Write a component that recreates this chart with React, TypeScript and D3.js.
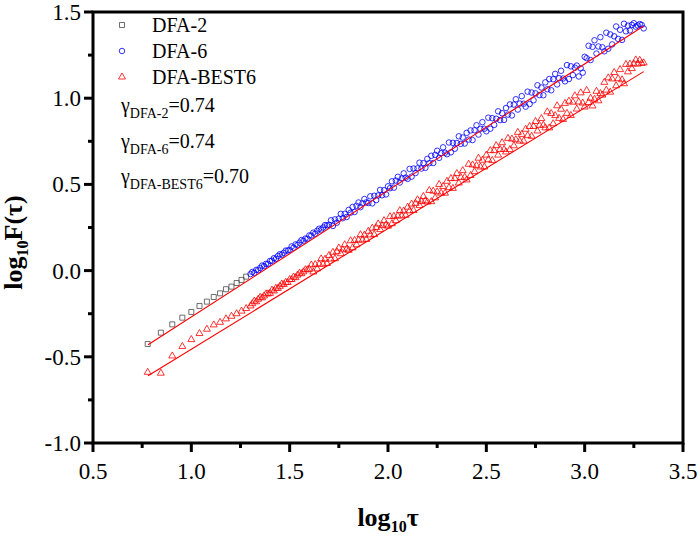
import * as d3 from 'd3'

// x grid: integer window sizes at small scale, then log10(tau) samples 1.31 .. 3.30
const smallTau = [6, 7, 8, 9, 10, 11, 12, 13, 14, 15, 16, 17, 18, 19, 20]
const denseStart = 1.31
const denseStep = 0.01

// DFA-2 (visible squares, tau 6..19)
const dfa2Small = [-0.426, -0.36, -0.312, -0.273, -0.24, -0.205, -0.18, -0.153, -0.132, -0.108, -0.093, -0.072, -0.054, -0.035]

// DFA-6: tau 20, then dense samples
const dfa6First = -0.02
const dfa6Dense = [
  -0.008, -0.013, 0.004, 0.003, 0.015, 0.029, 0.026, 0.039, 0.039, 0.056,
  0.057, 0.072, 0.068, 0.084, 0.095, 0.092, 0.103, 0.116, 0.116, 0.120,
  0.140, 0.133, 0.152, 0.149, 0.162, 0.177, 0.173, 0.186, 0.185, 0.204,
  0.203, 0.220, 0.214, 0.231, 0.243, 0.238, 0.250, 0.264, 0.262, 0.266,
  0.292, 0.259, 0.297, 0.278, 0.301, 0.329, 0.304, 0.329, 0.311, 0.352,
  0.336, 0.369, 0.340, 0.376, 0.395, 0.368, 0.390, 0.415, 0.396, 0.392,
  0.431, 0.390, 0.434, 0.409, 0.436, 0.468, 0.437, 0.466, 0.442, 0.489,
  0.478, 0.518, 0.481, 0.522, 0.544, 0.511, 0.534, 0.564, 0.539, 0.532,
  0.590, 0.545, 0.592, 0.566, 0.593, 0.626, 0.592, 0.623, 0.596, 0.648,
  0.623, 0.666, 0.624, 0.671, 0.695, 0.654, 0.681, 0.715, 0.684, 0.675,
  0.743, 0.686, 0.741, 0.707, 0.740, 0.779, 0.735, 0.772, 0.737, 0.799,
  0.760, 0.813, 0.757, 0.814, 0.843, 0.789, 0.822, 0.861, 0.823, 0.808,
  0.887, 0.823, 0.884, 0.845, 0.881, 0.924, 0.873, 0.913, 0.874, 0.943,
  0.905, 0.964, 0.900, 0.963, 0.994, 0.934, 0.969, 1.012, 0.968, 0.951,
  1.038, 0.966, 1.033, 0.988, 1.028, 1.075, 1.018, 1.062, 1.017, 1.092,
  1.052, 1.111, 1.046, 1.110, 1.141, 1.080, 1.116, 1.159, 1.114, 1.098,
  1.192, 1.111, 1.185, 1.134, 1.177, 1.189, 1.126, 1.173, 1.148, 1.240,
  1.232, 1.304, 1.221, 1.298, 1.336, 1.259, 1.300, 1.354, 1.295, 1.272,
  1.380, 1.287, 1.370, 1.312, 1.359, 1.416, 1.344, 1.397, 1.338, 1.432,
  1.388, 1.421, 1.393, 1.425, 1.435, 1.415, 1.422, 1.430, 1.425, 1.405
]

// DFA-BEST6: tau 6..20, then dense samples
const best6Small = [-0.59, -0.595, -0.495, -0.44, -0.40, -0.365, -0.34, -0.315, -0.30, -0.28, -0.265, -0.25, -0.235, -0.22, -0.205]
const best6Dense = [
  -0.192, -0.177, -0.181, -0.166, -0.155, -0.158, -0.147, -0.135, -0.135, -0.132,
  -0.113, -0.118, -0.102, -0.103, -0.091, -0.078, -0.081, -0.068, -0.069, -0.052,
  -0.052, -0.037, -0.041, -0.026, -0.015, -0.018, -0.007, 0.005, 0.005, 0.008,
  0.033, -0.008, 0.035, 0.010, 0.037, 0.068, 0.037, 0.066, 0.041, 0.088,
  0.067, 0.106, 0.069, 0.110, 0.131, 0.098, 0.121, 0.150, 0.125, 0.118,
  0.173, 0.132, 0.175, 0.150, 0.177, 0.208, 0.177, 0.206, 0.181, 0.228,
  0.207, 0.246, 0.209, 0.250, 0.271, 0.238, 0.261, 0.290, 0.265, 0.258,
  0.313, 0.272, 0.315, 0.290, 0.317, 0.348, 0.317, 0.346, 0.321, 0.368,
  0.347, 0.386, 0.349, 0.390, 0.411, 0.378, 0.401, 0.430, 0.405, 0.398,
  0.465, 0.400, 0.461, 0.422, 0.457, 0.500, 0.449, 0.488, 0.449, 0.518,
  0.481, 0.534, 0.477, 0.534, 0.563, 0.508, 0.541, 0.580, 0.541, 0.526,
  0.617, 0.552, 0.613, 0.574, 0.609, 0.652, 0.601, 0.640, 0.601, 0.670,
  0.643, 0.696, 0.639, 0.696, 0.725, 0.670, 0.703, 0.742, 0.703, 0.688,
  0.767, 0.702, 0.763, 0.724, 0.759, 0.802, 0.751, 0.790, 0.751, 0.820,
  0.783, 0.836, 0.779, 0.836, 0.865, 0.810, 0.843, 0.882, 0.843, 0.828,
  0.921, 0.828, 0.911, 0.852, 0.899, 0.956, 0.883, 0.936, 0.877, 0.970,
  0.912, 0.983, 0.900, 0.977, 1.014, 0.937, 0.978, 1.031, 0.972, 0.949,
  1.045, 0.975, 1.000, 0.955, 0.994, 1.040, 0.985, 1.027, 1.018, 1.092,
  1.047, 1.118, 1.035, 1.112, 1.149, 1.072, 1.113, 1.166, 1.107, 1.084,
  1.196, 1.153, 1.198, 1.172, 1.199, 1.222, 1.198, 1.220, 1.202, 1.205
]

// linear fits: [DFA-2/DFA-6, DFA-BEST6]
const fitSlopes = [0.734, 0.70]
const fitIntercepts = [-1.003, -1.156]
const fitRange = [0.78, 3.30]

const seriesNames = ['DFA-2', 'DFA-6', 'DFA-BEST6']
const gammaValues = ['0.74', '0.74', '0.70']

const xTicks = [0.5, 1.0, 1.5, 2.0, 2.5, 3.0, 3.5]
const xMinor = [0.75, 1.25, 1.75, 2.25, 2.75, 3.25]
const yTicks = [-1.0, -0.5, 0.0, 0.5, 1.0, 1.5]
const yMinor = [-0.75, -0.25, 0.25, 0.75, 1.25]

const W = 699
const H = 538
const left = 93
const right = 683
const top = 12
const bottom = 443
const font = "'Liberation Serif', 'Times New Roman', Times, 'DejaVu Serif', serif"

const x = d3.scaleLinear().domain([0.5, 3.5]).range([left, right])
const y = d3.scaleLinear().domain([-1, 1.5]).range([bottom, top])

const squarePath = d3.symbol(d3.symbolSquare, 25)()
const circlePath = d3.symbol(d3.symbolCircle, 24)()
const trianglePath = d3.symbol(d3.symbolTriangle, 21)()

type Pt = [number, number]

const smallLog = smallTau.map(t => Math.log10(t))
const denseX = (i: number) => denseStart + i * denseStep
const dfa2Pts: Pt[] = dfa2Small.map((v, i) => [smallLog[i], v])
const dfa6Pts: Pt[] = [[smallLog[14], dfa6First] as Pt].concat(
  dfa6Dense.map((v, i) => [denseX(i), v] as Pt)
)
const best6Pts: Pt[] = best6Small
  .map((v, i) => [smallLog[i], v] as Pt)
  .concat(best6Dense.map((v, i) => [denseX(i), v] as Pt))

const markers = [
  { pts: dfa2Pts, path: squarePath, color: '#4a4a4a' },
  { pts: dfa6Pts, path: circlePath, color: '#0000ff' },
  { pts: best6Pts, path: trianglePath, color: '#ff0000' }
]

const line = d3.line<Pt>().x(d => x(d[0])).y(d => y(d[1]))

export default function App() {
  return (
    <svg
      width={W}
      height={H}
      style={{ position: 'absolute', left: 0, top: 0, background: '#fff' }}
    >
      {markers.map((m, si) => (
        <g key={si} fill="none" stroke={m.color} strokeWidth={0.8}>
          {m.pts.map((p, i) => (
            <path key={i} d={m.path} transform={`translate(${x(p[0])},${y(p[1])})`} />
          ))}
        </g>
      ))}

      {fitSlopes.map((s, i) => (
        <path
          key={i}
          d={line(fitRange.map(v => [v, s * v + fitIntercepts[i]] as Pt)) ?? ''}
          fill="none"
          stroke="#ff0000"
          strokeWidth={1.1}
        />
      ))}

      {/* frame */}
      <rect x={left} y={top} width={right - left} height={bottom - top} fill="none" stroke="#000" strokeWidth={3} />

      <g style={{ fontFamily: font }}>
        {/* x axis ticks */}
        {xTicks.map(t => (
          <g key={t}>
            <line x1={x(t)} x2={x(t)} y1={bottom} y2={bottom + 9} stroke="#000" strokeWidth={3} />
            <text x={x(t)} y={bottom + 36} fontSize={23} textAnchor="middle">
              {t.toFixed(1)}
            </text>
          </g>
        ))}
        {xMinor.map(t => (
          <line key={t} x1={x(t)} x2={x(t)} y1={bottom} y2={bottom + 5} stroke="#000" strokeWidth={3} />
        ))}

        {/* y axis ticks */}
        {yTicks.map(t => (
          <g key={t}>
            <line x1={left - 9} x2={left} y1={y(t)} y2={y(t)} stroke="#000" strokeWidth={3} />
            <text x={left - 12} y={y(t) + 8} fontSize={23} textAnchor="end">
              {t.toFixed(1)}
            </text>
          </g>
        ))}
        {yMinor.map(t => (
          <line key={t} x1={left - 5} x2={left} y1={y(t)} y2={y(t)} stroke="#000" strokeWidth={3} />
        ))}

        {/* axis titles */}
        <text x={(left + right) / 2} y={526} fontSize={26} fontWeight="bold" textAnchor="middle">
          log<tspan fontSize={16} dy={6}>10</tspan>
          <tspan dy={-6}>τ</tspan>
        </text>
        <text
          transform={`translate(22,${(top + bottom) / 2 + 15}) rotate(-90)`}
          fontSize={26}
          fontWeight="bold"
          textAnchor="middle"
        >
          log<tspan fontSize={16} dy={6}>10</tspan>
          <tspan dy={-6}>F(τ)</tspan>
        </text>

        {/* legend */}
        {markers.map((m, i) => (
          <g key={i}>
            <path d={m.path} transform={`translate(122,${25 + i * 26})`} fill="none" stroke={m.color} strokeWidth={0.8} />
            <text x={152} y={32 + i * 26} fontSize={20}>
              {seriesNames[i]}
            </text>
          </g>
        ))}
        {gammaValues.map((g, i) => (
          <text key={i} x={121} y={112 + i * 35.5} fontSize={20}>
            γ<tspan fontSize={14} dy={6}>{seriesNames[i]}</tspan>
            <tspan dy={-6}>={g}</tspan>
          </text>
        ))}
      </g>
    </svg>
  )
}
